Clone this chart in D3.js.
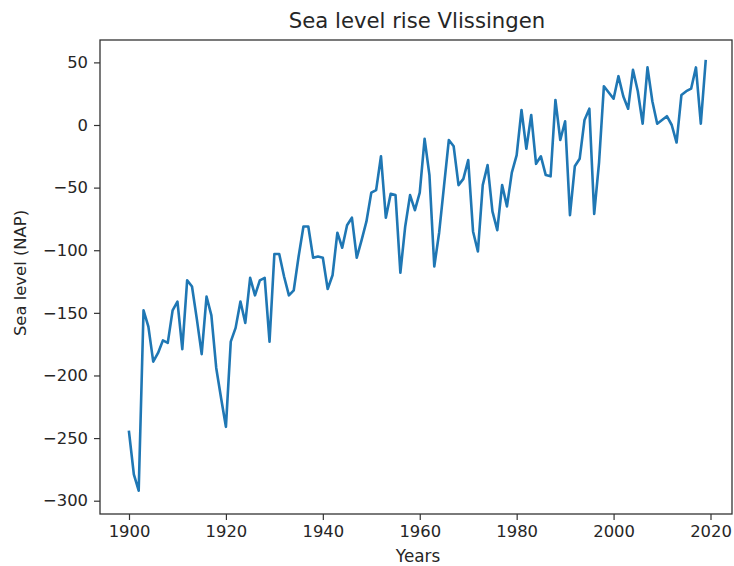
<!DOCTYPE html>
<html>
<head>
<meta charset="utf-8">
<script src="https://cdn.jsdelivr.net/npm/d3@7"></script>
<style>
  html, body { margin: 0; padding: 0; background: #fff; }
  svg { display: block; font-family: "DejaVu Sans", sans-serif; }
</style>
</head>
<body>
<svg id="chart" width="734" height="566"></svg>
<script>
const years = [1900,1901,1902,1903,1904,1905,1906,1907,1908,1909,
  1910,1911,1912,1913,1914,1915,1916,1917,1918,1919,
  1920,1921,1922,1923,1924,1925,1926,1927,1928,1929,
  1930,1931,1932,1933,1934,1935,1936,1937,1938,1939,
  1940,1941,1942,1943,1944,1945,1946,1947,1948,1949,
  1950,1951,1952,1953,1954,1955,1956,1957,1958,1959,
  1960,1961,1962,1963,1964,1965,1966,1967,1968,1969,
  1970,1971,1972,1973,1974,1975,1976,1977,1978,1979,
  1980,1981,1982,1983,1984,1985,1986,1987,1988,1989,
  1990,1991,1992,1993,1994,1995,1996,1997,1998,1999,
  2000,2001,2002,2003,2004,2005,2006,2007,2008,2009,
  2010,2011,2012,2013,2014,2015,2016,2017,2018,2019];
const seaLevel = [-245,-279,-292,-148,-161,-189,-182,-172,-174,-148,
  -141,-179,-124,-129,-155,-183,-137,-152,-194,-218,
  -241,-173,-162,-141,-158,-122,-136,-124,-122,-173,
  -103,-103,-121,-136,-132,-105,-81,-81,-106,-105,
  -106,-131,-120,-86,-98,-80,-74,-106,-92,-77,
  -54,-52,-25,-74,-55,-56,-118,-81,-56,-68,
  -54,-11,-40,-113,-86,-49,-12,-17,-48,-43,
  -28,-85,-101,-48,-32,-69,-84,-48,-65,-38,
  -24,12,-19,8,-31,-25,-40,-41,20,-12,
  3,-72,-33,-27,4,13,-71,-30,31,26,
  21,39,23,13,44,27,1,46,19,1,
  4,7,0,-14,24,27,29,46,1,51];
const xTicks = [1900,1920,1940,1960,1980,2000,2020];
const yTicks = [50,0,-50,-100,-150,-200,-250,-300];
const titleText = "Sea level rise Vlissingen";
const xLabel = "Years";
const yLabel = "Sea level (NAP)";

const svg = d3.select("#chart");
const frame = {left: 100, right: 732, top: 40, bottom: 514};

const x = d3.scaleLinear().domain([1900, 2020]).range([129, 710.5]);
const y = d3.scaleLinear().domain([0, -300]).range([125, 500.7]);

const data = years.map((yr, i) => ({year: yr, value: seaLevel[i]}));

// line
svg.append("path")
  .datum(data)
  .attr("fill", "none")
  .attr("stroke", "#1f77b4")
  .attr("stroke-width", 2.6)
  .attr("stroke-linejoin", "round")
  .attr("stroke-linecap", "square")
  .attr("d", d3.line().x(d => x(d.year)).y(d => y(d.value)));

// x axis
const xAxis = svg.append("g")
  .attr("transform", `translate(0,${frame.bottom})`)
  .call(d3.axisBottom(x).tickValues(xTicks).tickFormat(d3.format("d")).tickSize(6).tickPadding(5));
xAxis.select(".domain").remove();
xAxis.selectAll("line").attr("stroke", "#333").attr("stroke-width", 1.2);
xAxis.selectAll("text").attr("font-size", 16.4).attr("fill", "#262626")
  .attr("font-family", "DejaVu Sans, sans-serif");

// y axis
const yAxis = svg.append("g")
  .attr("transform", `translate(${frame.left},0)`)
  .call(d3.axisLeft(y).tickValues(yTicks).tickFormat(d => d < 0 ? "\u2212" + Math.abs(d) : d).tickSize(6).tickPadding(6));
yAxis.select(".domain").remove();
yAxis.selectAll("line").attr("stroke", "#333").attr("stroke-width", 1.2);
yAxis.selectAll("text").attr("font-size", 16.4).attr("fill", "#262626")
  .attr("font-family", "DejaVu Sans, sans-serif");

// frame (spines)
svg.append("rect")
  .attr("x", frame.left).attr("y", frame.top)
  .attr("width", frame.right - frame.left).attr("height", frame.bottom - frame.top)
  .attr("fill", "none").attr("stroke", "#333").attr("stroke-width", 1.3);

// title
svg.append("text")
  .attr("x", 417).attr("y", 28)
  .attr("text-anchor", "middle")
  .attr("font-size", 21.2).attr("fill", "#262626")
  .text(titleText);

// x label
svg.append("text")
  .attr("x", 418).attr("y", 562)
  .attr("text-anchor", "middle")
  .attr("font-size", 16.8).attr("fill", "#262626")
  .text(xLabel);

// y label
svg.append("text")
  .attr("transform", `translate(26,273) rotate(-90)`)
  .attr("text-anchor", "middle")
  .attr("font-size", 16.4).attr("fill", "#262626")
  .text(yLabel);
</script>
</body>
</html>
